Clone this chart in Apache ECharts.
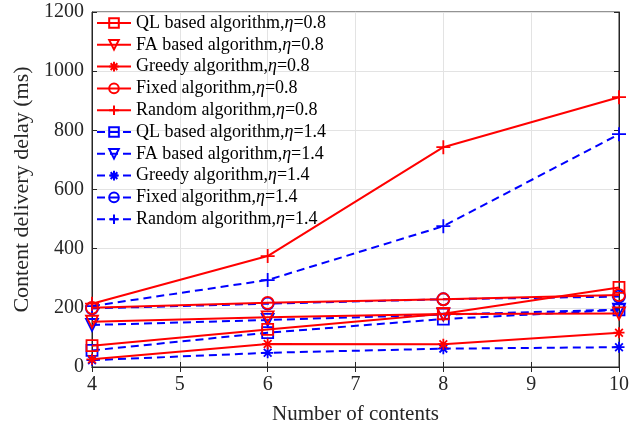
<!DOCTYPE html>
<html><head><meta charset="utf-8">
<script src="https://cdn.jsdelivr.net/npm/echarts@6/dist/echarts.min.js"></script>
<style>html,body{margin:0;padding:0;background:#fff}#c{width:634px;height:433px}</style>
</head><body><div id="c"></div>
<script>
const xValues = [4, 6, 8, 10];
const yTicks = [0, 200, 400, 600, 800, 1000, 1200];
const names = [
  'QL based algorithm,η=0.8', 'FA based algorithm,η=0.8', 'Greedy algorithm,η=0.8',
  'Fixed algorithm,η=0.8', 'Random algorithm,η=0.8',
  'QL based algorithm,η=1.4', 'FA based algorithm,η=1.4', 'Greedy algorithm,η=1.4',
  'Fixed algorithm,η=1.4', 'Random algorithm,η=1.4'
];
const ql08 = [72, 127, 180, 269];
const fa08 = [153, 168, 179, 181];
const greedy08 = [26, 78, 77, 116];
const fixed08 = [200, 217, 229, 243];
const random08 = [214, 375, 743, 912];
const ql14 = [56, 116, 162, 193];
const fa14 = [142, 159, 177, 194];
const greedy14 = [23, 48, 62, 67];
const fixed14 = [198, 214, 229, 238];
const random14 = [206, 294, 476, 787];

const data = [ql08, fa08, greedy08, fixed08, random08, ql14, fa14, greedy14, fixed14, random14];
const symbols = [
  'rect',
  'path://M0,0 L10,0 L5,9 Z',
  'path://M5,0 L5,10 M0,5 L10,5 M1.5,1.5 L8.5,8.5 M8.5,1.5 L1.5,8.5',
  'circle',
  'path://M5,0 L5,10 M0,5 L10,5'
];
const sizes = [11, 12, 11, 12, 14];
const RED = '#ff0000', BLUE = '#0000ff';
const FONT = 'Liberation Serif';

const series = data.map((vals, i) => {
  const k = i % 5;
  const col = i < 5 ? RED : BLUE;
  return {
    name: names[i],
    type: 'line',
    xAxisIndex: 0, yAxisIndex: 0,
    data: vals.map((v, j) => [xValues[j], v]),
    symbol: symbols[k],
    symbolSize: sizes[k],
    showAllSymbol: true,
    color: col,
    lineStyle: { color: col, width: 2, type: i < 5 ? 'solid' : [8, 5] },
    itemStyle: { color: 'transparent', borderColor: col, borderWidth: 1.8 },
    emphasis: { disabled: true },
    animation: false,
    z: 10 - i
  };
});

const chart = echarts.init(document.getElementById('c'), null, { renderer: 'canvas' });
const labelStyle = { fontFamily: FONT, fontSize: 20, color: '#262626' };
chart.setOption({
  backgroundColor: '#fff',
  animation: false,
  grid: { left: 92, right: 15, top: 12, bottom: 66, show: true, borderColor: '#262626', borderWidth: 1, backgroundColor: 'transparent' },
  legend: {
    orient: 'vertical', left: 96, top: 14, padding: 0,
    itemWidth: 34, itemHeight: 12, itemGap: 3.8,
    textStyle: { fontFamily: FONT, fontSize: 18, color: '#000', rich: { i: { fontFamily: FONT, fontSize: 18, fontStyle: 'italic', color: '#000' } } },
    formatter: n => n.replace('η', '{i|η}'),
    data: names,
    selectedMode: false,
    backgroundColor: 'transparent'
  },
  xAxis: [{
    type: 'value', min: 4, max: 10, interval: 1, position: 'bottom',
    name: 'Number of contents', nameLocation: 'middle', nameGap: 37,
    nameTextStyle: { fontFamily: FONT, fontSize: 21, color: '#262626' },
    axisLine: { show: true, lineStyle: { color: '#262626' } },
    axisTick: { show: true, inside: true, length: 5, lineStyle: { color: '#262626' } },
    axisLabel: Object.assign({ margin: 8, formatter: v => String(v) }, labelStyle),
    splitLine: { show: true, lineStyle: { color: '#e3e3e3', width: 1 } }
  }, {
    type: 'value', min: 4, max: 10, interval: 1, position: 'top',
    axisLine: { show: true, lineStyle: { color: '#262626' } },
    axisTick: { show: true, inside: true, length: 5, lineStyle: { color: '#262626' } },
    axisLabel: { show: false }, splitLine: { show: false }
  }],
  yAxis: [{
    type: 'value', min: yTicks[0], max: yTicks[yTicks.length - 1], interval: 200, position: 'left',
    name: 'Content delivery delay (ms)', nameLocation: 'middle', nameGap: 53,
    nameTextStyle: { fontFamily: FONT, fontSize: 22, color: '#262626' },
    axisLine: { show: true, lineStyle: { color: '#262626' } },
    axisTick: { show: true, inside: true, length: 5, lineStyle: { color: '#262626' } },
    axisLabel: Object.assign({ margin: 8, formatter: v => String(v) }, labelStyle),
    splitLine: { show: true, lineStyle: { color: '#e3e3e3', width: 1 } }
  }, {
    type: 'value', min: 0, max: 1200, interval: 200, position: 'right',
    axisLine: { show: true, lineStyle: { color: '#262626' } },
    axisTick: { show: true, inside: true, length: 5, lineStyle: { color: '#262626' } },
    axisLabel: { show: false }, splitLine: { show: false }
  }],
  series: series
});
</script></body></html>
